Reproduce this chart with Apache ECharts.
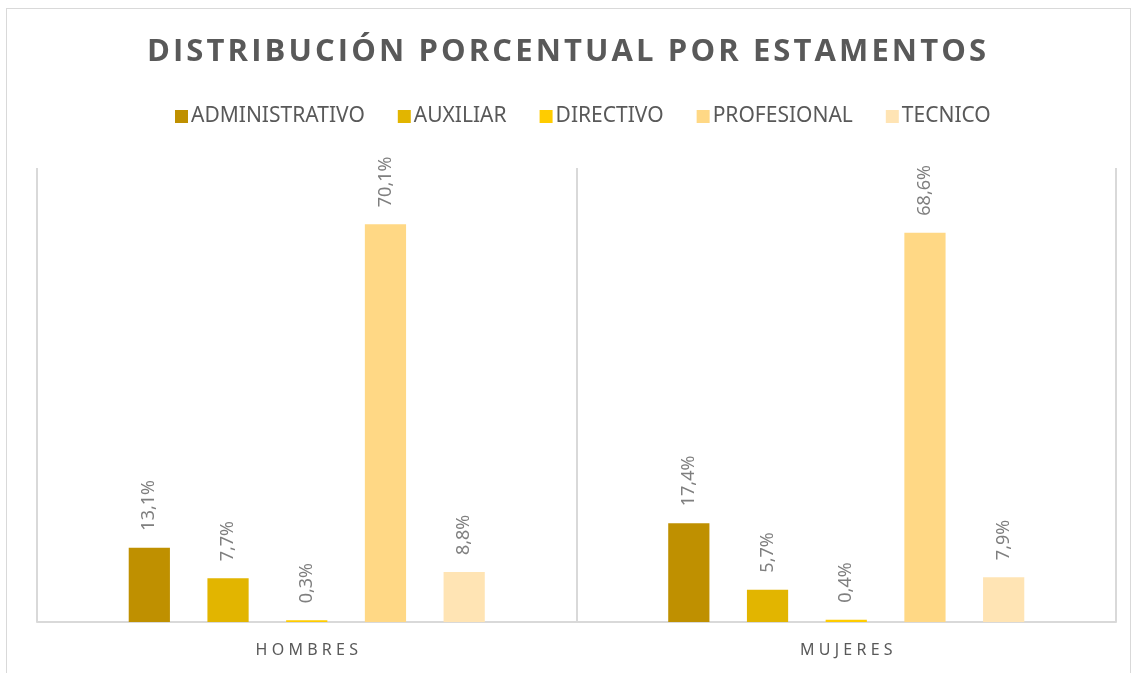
<!DOCTYPE html>
<html>
<head>
<meta charset="utf-8">
<script src="https://cdn.jsdelivr.net/npm/echarts@6/dist/echarts.min.js"></script>
<style>
    html, body { margin: 0; padding: 0; background: #fff; }
    #chart { width: 1133px; height: 673px; }
    #frame { position: absolute; left: 6px; top: 8px; width: 1125px; height: 670px; border: 1px solid #d9d9d9; box-sizing: border-box; pointer-events: none; }
</style>
</head>
<body>
<div id="chart"></div>
<div id="frame"></div>
<script>
const categories = ['HOMBRES', 'MUJERES']
const seriesNames = ['ADMINISTRATIVO', 'AUXILIAR', 'DIRECTIVO', 'PROFESIONAL', 'TECNICO']
const administrativo = [13.1, 17.4]
const auxiliar = [7.7, 5.7]
const directivo = [0.3, 0.4]
const profesional = [70.1, 68.6]
const tecnico = [8.8, 7.9]
const seriesColors = ['#bf9000', '#e2b500', '#ffcc00', '#ffd885', '#ffe4b4']

const seriesValues = [administrativo, auxiliar, directivo, profesional, tecnico]
const textGray = '#595959'

// canvas text has no letter-spacing, so pad with hair spaces
const spaced = (s, sep) => s.split('').join(sep)

const chartInstance = echarts.init(document.getElementById('chart'))

const barOptions = {
    animation: false,
    color: seriesColors,
    title: {
        text: spaced('DISTRIBUCIÓN PORCENTUAL POR ESTAMENTOS', '\u200a'),
        left: 'center',
        top: 32,
        textStyle: {
            fontFamily: 'Open Sans',
            fontSize: 31,
            fontWeight: 'bold',
            color: textGray
        }
    },
    legend: {
        top: 101,
        left: 170,
        itemWidth: 13,
        itemHeight: 13,
        itemGap: 33,
        icon: 'rect',
        textStyle: {
            fontFamily: 'Noto Sans',
            fontSize: 21,
            color: textGray,
            padding: [0, 0, 0, -2]
        },
        data: seriesNames
    },
    grid: {
        left: 37,
        right: 17,
        top: 168,
        bottom: 51
    },
    xAxis: {
        type: 'category',
        data: categories,
        axisLine: { lineStyle: { color: '#d9d9d9', width: 2 } },
        axisTick: { show: false },
        splitLine: { show: true, lineStyle: { color: '#d9d9d9', width: 2 } },
        axisLabel: {
            margin: 20,
            fontFamily: 'Noto Sans',
            fontSize: 16,
            color: textGray,
            formatter: v => spaced(v, '\u2009\u200a')
        }
    },
    yAxis: {
        type: 'value',
        min: 0,
        max: 80,
        show: false
    },
    series: seriesNames.map((name, i) => ({
        name: name,
        type: 'bar',
        data: seriesValues[i],
        barGap: '91%',
        barCategoryGap: '34%',
        label: {
            show: true,
            position: 'top',
            rotate: 90,
            align: 'left',
            verticalAlign: 'middle',
            distance: 17,
            fontFamily: 'Noto Sans',
            fontSize: 18,
            color: '#7f7f7f',
            formatter: p => p.value.toFixed(1).replace('.', ',') + '%'
        }
    }))
}

chartInstance.setOption(barOptions)
</script>
</body>
</html>
